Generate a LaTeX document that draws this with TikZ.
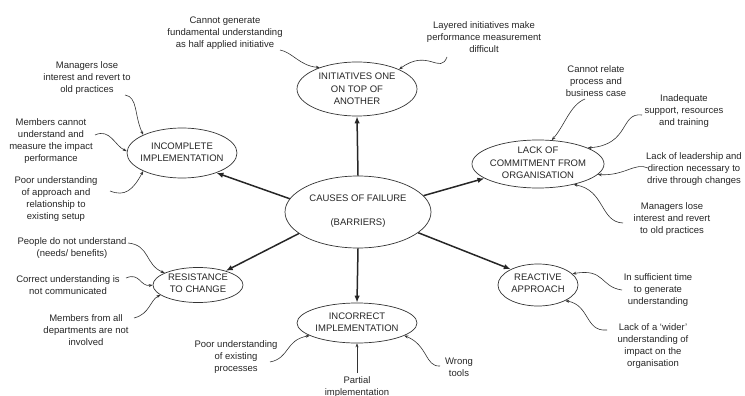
\documentclass[tikz,border=0pt]{standalone}
\usepackage{fontspec}
\setmainfont{Liberation Sans}
\usetikzlibrary{shapes.geometric,arrows.meta}
\tikzset{
  ell/.style={draw=black!80, line width=0.7pt, ellipse, inner sep=0pt},
  etxt/.style={align=center, inner sep=0pt, text=black!85, font=\fontsize{9.5}{12.5}\selectfont},
  note/.style={align=center, inner sep=0pt, text=black!85, font=\fontsize{9.5}{12}\selectfont},
  mainarr/.style={line width=1.5pt, draw=black!85, -{Latex[length=7pt,width=5.5pt]}},
  ann/.style={line width=0.6pt, draw=black!80, -{Stealth[length=4pt,width=3pt]}},
}
\begin{document}
\begin{tikzpicture}[x=1pt,y=-1pt]
\useasboundingbox (0,0) rectangle (745,396);
% ellipses
\node[ell, minimum width=146pt, minimum height=72pt] (C) at (358,212) {};
\node[etxt] (Ct) at (358,211) {CAUSES OF FAILURE\\[12pt](BARRIERS)};
\node[ell, minimum width=120pt, minimum height=54pt] (Init) at (357,89) {};
\node[etxt] (Initt) at (357,89) {INITIATIVES ONE\\ON TOP OF\\ANOTHER};
\node[ell, minimum width=110pt, minimum height=50pt] (Inc) at (182,153) {};
\node[etxt] (Inct) at (182,152) {INCOMPLETE\\IMPLEMENTATION};
\node[ell, minimum width=132pt, minimum height=48pt] (Lack) at (538,164) {};
\node[etxt] (Lackt) at (538,163) {LACK OF\\COMMITMENT FROM\\ORGANISATION};
\node[ell, minimum width=90pt, minimum height=35pt] (Res) at (198,285) {};
\node[etxt] (Rest) at (198,283) {RESISTANCE\\TO CHANGE};
\node[ell, minimum width=120pt, minimum height=40pt] (Incorr) at (357,323) {};
\node[etxt] (Incorrt) at (357,322) {INCORRECT\\IMPLEMENTATION};
\node[ell, minimum width=80pt, minimum height=42pt] (React) at (538,285) {};
\node[etxt] (Reactt) at (538,283) {REACTIVE\\APPROACH};
% main arrows
\draw[mainarr] (C.90) -- (Init.270);
\draw[mainarr] (C.169) -- (Inc.330);
\draw[mainarr] (C.14) -- (Lack.195);
\draw[mainarr] (C.200) -- (Res.27);
\draw[mainarr] (C.270) -- (Incorr.90);
\draw[mainarr] (C.341) -- (React.150);
% notes
\node[note] (n1) at (225,33) {Cannot generate\\fundamental understanding\\as half applied initiative};
\node[note] (n2) at (484,37) {Layered initiatives make\\performance measurement\\difficult};
\node[note] (n3) at (87,78) {Managers lose\\interest and revert to\\old practices};
\node[note] (n4) at (51,141) {Members cannot\\understand and\\measure the impact\\performance};
\node[note] (n5) at (56,199) {Poor understanding\\of approach and\\relationship to\\existing setup};
\node[note] (n6) at (72,248) {People do not understand\\(needs/ benefits)};
\node[note] (n7) at (68,285) {Correct understanding is\\not communicated};
\node[note] (n8) at (86,330) {Members from all\\departments are not\\involved};
\node[note] (n9) at (236,357) {Poor understanding\\of existing\\processes};
\node[note] (n10) at (357,387) {Partial\\implementation};
\node[note] (n11) at (459,367) {Wrong\\tools};
\node[note] (n12) at (658,290) {In sufficient time\\to generate\\understanding};
\node[note] (n13) at (653,346) {Lack of a `wider'\\understanding of\\impact on the\\organisation};
\node[note] (n14) at (672,219) {Managers lose\\interest and revert\\to old practices};
\node[note] (n15) at (596,81) {Cannot relate\\process and\\business case};
\node[note] (n16) at (684,111) {Inadequate\\support, resources\\and training};
\node[note] (n17) at (694,169) {Lack of leadership and\\direction necessary to\\drive through changes};
% start points of note connectors
\coordinate (s1) at (280,50);
\coordinate (s2) at (447,57);
\coordinate (s3) at (125,95);
\coordinate (s4) at (95,135);
\coordinate (s5) at (110,191);
\coordinate (s6) at (128,243);
\coordinate (s7) at (126,278);
\coordinate (s8) at (134,318);
\coordinate (s9) at (270,362);
\coordinate (s10) at (357,373);
\coordinate (s11) at (440,366);
\coordinate (s12) at (622,290);
\coordinate (s13) at (607,330);
\coordinate (s14) at (623,223);
\coordinate (s15) at (585,99);
\coordinate (s16) at (642,115);
\coordinate (s17) at (648,168);
% note connectors
\draw[ann] (s1) .. controls (292,52) and (300,66) .. (Init.150);
\draw[ann] (s2) .. controls (440,75) and (428,48) .. (Init.25);
\draw[ann] (s3) .. controls (138,97) and (134,115) .. (Inc.155);
\draw[ann] (s4) .. controls (110,128) and (115,146) .. (Inc.178);
\draw[ann] (s5) .. controls (125,197) and (133,190) .. (Inc.205);
\draw[ann] (s6) .. controls (150,245) and (145,265) .. (Res.160);
\draw[ann] (s7) .. controls (140,272) and (140,287) .. (Res.180);
\draw[ann] (s8) .. controls (150,314) and (150,300) .. (Res.195);
\draw[ann] (s9) .. controls (290,358) and (285,340) .. (Incorr.195);
\draw[ann] (s10) -- (Incorr.270);
\draw[ann] (s11) .. controls (425,367) and (428,345) .. (Incorr.345);
\draw[ann] (s12) .. controls (600,287) and (605,268) .. (React.18);
\draw[ann] (s13) .. controls (585,332) and (590,305) .. (React.330);
\draw[ann] (s14) .. controls (600,222) and (605,190) .. (Lack.330);
\draw[ann] (s15) .. controls (570,105) and (565,125) .. (Lack.60);
\draw[ann] (s16) .. controls (620,112) and (630,145) .. (Lack.18);
\draw[ann] (s17) .. controls (635,162) and (625,176) .. (Lack.350);
\end{tikzpicture}
\end{document}
